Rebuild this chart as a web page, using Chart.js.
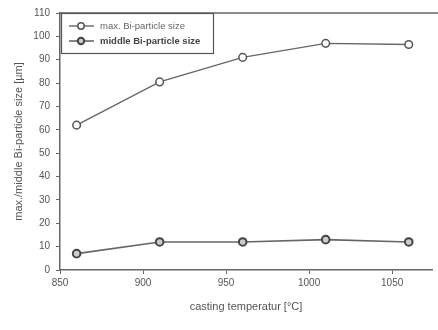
<!DOCTYPE html>
<html>
<head>
<meta charset="utf-8">
<script src="https://cdn.jsdelivr.net/npm/chart.js@4.4.0/dist/chart.umd.min.js"></script>
<style>
  html, body { margin: 0; padding: 0; background: #fff; }
  #wrap { width: 438px; height: 330px; }
</style>
</head>
<body>
<div id="wrap"><canvas id="chart" width="438" height="330"></canvas></div>
<script>
// Data
const temperatures = [860, 910, 960, 1010, 1060];
const maxSize = [62, 80.5, 91, 97, 96.5];
const middleSize = [7, 12, 12, 13, 12];
const seriesLabels = ['max. Bi-particle size', 'middle Bi-particle size'];
const xTicks = [850, 900, 950, 1000, 1050];

const FONT = '"Liberation Sans", Arial, sans-serif';
const INK = '#555';

// Legend box + top frame line
const frameAndLegend = {
  id: 'frameAndLegend',
  afterDraw(chart) {
    const { ctx, chartArea } = chart;
    ctx.save();
    ctx.strokeStyle = '#666';
    ctx.lineWidth = 1.5;
    ctx.beginPath();
    ctx.moveTo(chartArea.left, chartArea.top);
    ctx.lineTo(chart.width, chartArea.top);
    ctx.stroke();

    const boxX = chartArea.left + 1;
    const boxY = chartArea.top;
    ctx.fillStyle = '#fff';
    ctx.fillRect(boxX, boxY, 152, 40);
    ctx.strokeStyle = '#555';
    ctx.lineWidth = 1.2;
    ctx.strokeRect(boxX + 0.5, boxY + 0.5, 152, 40);

    chart.data.datasets.forEach((ds, i) => {
      const y = boxY + 13 + i * 15;
      ctx.strokeStyle = ds.borderColor;
      ctx.lineWidth = ds.borderWidth;
      ctx.beginPath();
      ctx.moveTo(boxX + 8, y);
      ctx.lineTo(boxX + 33, y);
      ctx.stroke();
      ctx.beginPath();
      ctx.arc(boxX + 20, y, 3.2, 0, Math.PI * 2);
      ctx.fillStyle = ds.pointBackgroundColor;
      ctx.fill();
      ctx.lineWidth = ds.pointBorderWidth;
      ctx.strokeStyle = ds.pointBorderColor;
      ctx.stroke();
      ctx.fillStyle = i === 0 ? '#666' : '#444';
      ctx.font = (i === 0 ? '' : 'bold ') + '9.5px ' + FONT;
      ctx.textBaseline = 'middle';
      ctx.fillText(ds.label, boxX + 39, y);
    });
    ctx.restore();
  }
};

const toPoints = (ys) => temperatures.map((t, i) => ({ x: t, y: ys[i] }));

new Chart(document.getElementById('chart'), {
  type: 'line',
  data: {
    datasets: [
      {
        label: seriesLabels[0],
        data: toPoints(maxSize),
        borderColor: '#666',
        borderWidth: 1.4,
        pointRadius: 3.8,
        pointBackgroundColor: '#fff',
        pointBorderColor: '#555',
        pointBorderWidth: 1.5,
        tension: 0
      },
      {
        label: seriesLabels[1],
        data: toPoints(middleSize),
        borderColor: '#666',
        borderWidth: 1.6,
        pointRadius: 3.8,
        pointBackgroundColor: '#ccc',
        pointBorderColor: '#444',
        pointBorderWidth: 2,
        tension: 0
      }
    ]
  },
  options: {
    responsive: false,
    animation: false,
    layout: { padding: { top: 13, right: 0, left: 0, bottom: 0 } },
    plugins: {
      legend: { display: false },
      tooltip: { enabled: false }
    },
    scales: {
      x: {
        type: 'linear',
        min: 850,
        max: 1074,
        afterBuildTicks: (axis) => {
          axis.ticks = xTicks.map((v) => ({ value: v }));
        },
        afterFit: (axis) => { axis.height = 60; },
        border: { color: '#666', width: 1.5 },
        grid: { drawOnChartArea: false, drawTicks: true, tickLength: 4, color: '#666' },
        ticks: {
          color: INK,
          font: { family: FONT, size: 10 },
          padding: 3,
          maxRotation: 0,
          callback: (v) => String(v)
        },
        title: {
          display: true,
          text: 'casting temperatur [°C]',
          color: INK,
          font: { family: FONT, size: 11 },
          padding: { top: 8, bottom: 16 }
        }
      },
      y: {
        min: 0,
        max: 110,
        ticks: { stepSize: 10, color: INK, font: { family: FONT, size: 10 }, padding: 6 },
        afterFit: (axis) => { axis.width = 60; },
        border: { color: '#666', width: 1.5 },
        grid: { drawOnChartArea: false, drawTicks: true, tickLength: 4, color: '#666' },
        title: {
          display: true,
          text: 'max./middle Bi-particle size [µm]',
          color: INK,
          font: { family: FONT, size: 11 },
          padding: { top: 12, bottom: 0 }
        }
      }
    }
  },
  plugins: [frameAndLegend]
});
</script>
</body>
</html>
